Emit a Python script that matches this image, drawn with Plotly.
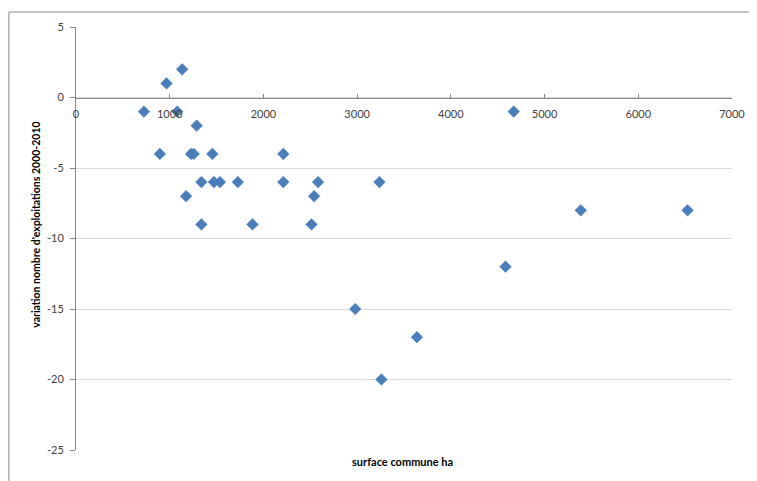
import plotly.graph_objects as go

# Data
surface_ha = [725, 966, 1133, 1080, 1288, 895, 1228, 1256, 1455, 2212,
              1338, 1472, 1536, 1727, 2212, 2583, 1175, 2541, 1338, 1883,
              2513, 3238, 2980, 3638, 3259, 4671, 5386, 6526, 4583]
variation = [-1, 1, 2, -1, -2, -4, -4, -4, -4, -4,
             -6, -6, -6, -6, -6, -6, -7, -7, -9, -9,
             -9, -6, -15, -17, -20, -1, -8, -8, -12]

x_ticks = [0, 1000, 2000, 3000, 4000, 5000, 6000, 7000]
y_ticks = [5, 0, -5, -10, -15, -20, -25]

# page body has an 8px margin, so the figure is drawn 8px smaller
OFF = 8
W, H = 757 - OFF, 481 - OFF
L, R, T, B = 68, 21, 18, 31
pw, ph = W - L - R, H - T - B

def px(x):  # page pixel -> paper
    return (x - OFF - L) / pw

def py(y):
    return (H - B - (y - OFF)) / ph

fig = go.Figure()
fig.add_trace(go.Scatter(
    x=surface_ha, y=variation, mode="markers",
    marker=dict(symbol="diamond", size=9, color="#4A7EBB",
                line=dict(color="#4A7EBB", width=0.5)),
    showlegend=False, cliponaxis=False,
))

font_family = "Lato, 'Open Sans', sans-serif"

fig.update_layout(
    width=W, height=H,
    margin=dict(l=L, r=R, t=T, b=B),
    paper_bgcolor="white", plot_bgcolor="white",
    font=dict(family=font_family, size=11, color="#404040"),
    xaxis=dict(
        range=[0, 7000], tickvals=x_ticks, ticktext=[str(v) for v in x_ticks],
        anchor="free", position=25 / 30,
        showline=True, linecolor="#868686", linewidth=1,
        ticks="inside", ticklen=4, tickcolor="#868686",
        showgrid=False, zeroline=False,
        tickfont=dict(size=11, color="#404040"),
        ticklabelstandoff=6,
    ),
    yaxis=dict(
        range=[-25, 5], tickvals=y_ticks, ticktext=[str(v) for v in y_ticks],
        showline=True, linecolor="#868686", linewidth=1,
        ticks="outside", ticklen=5, tickcolor="#868686",
        showgrid=True, gridcolor="#D9D9D9", gridwidth=1,
        zeroline=False,
        tickfont=dict(size=11, color="#404040"),
        ticklabelstandoff=4,
    ),
    annotations=[
        dict(text="<b>surface commune ha</b>", xref="paper", yref="paper",
             x=px(404), y=py(462), xanchor="center", yanchor="middle",
             showarrow=False,
             font=dict(size=11, color="#000000", family=font_family)),
        dict(text="<b>variation nombre d'exploitations 2000-2010</b>",
             xref="paper", yref="paper", x=px(35), y=py(224),
             xanchor="center", yanchor="middle",
             textangle=-90, showarrow=False,
             font=dict(size=10.5, color="#000000", family=font_family)),
    ],
    shapes=[
        dict(type="line", xref="paper", yref="paper",
             x0=px(8.5), x1=px(757), y0=py(11), y1=py(11),
             line=dict(color="#888888", width=1)),
        dict(type="line", xref="paper", yref="paper",
             x0=px(8.5), x1=px(8.5), y0=py(11), y1=py(481),
             line=dict(color="#888888", width=1)),
    ],
)

fig.write_html("out.html")
